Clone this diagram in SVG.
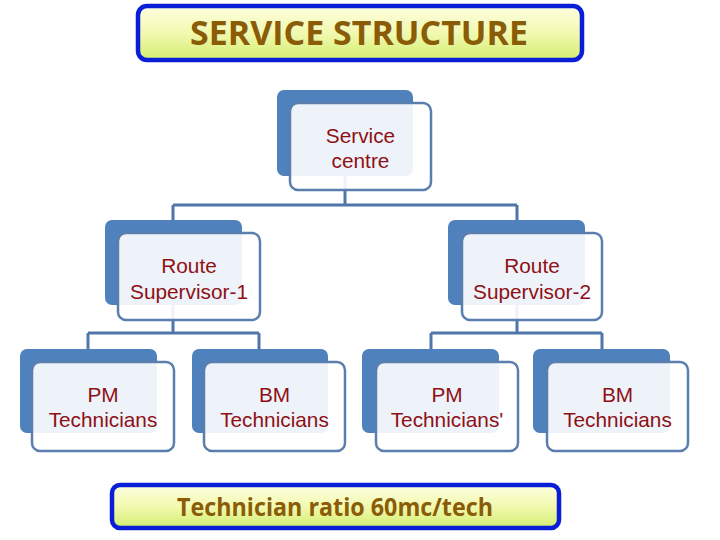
<svg xmlns="http://www.w3.org/2000/svg" width="720" height="540" viewBox="0 0 720 540">
<defs>
<linearGradient id="yel" x1="0" y1="0" x2="0" y2="1">
<stop offset="0" stop-color="#fefee0"/>
<stop offset="0.5" stop-color="#f2f9b0"/>
<stop offset="1" stop-color="#d2ee70"/>
</linearGradient>
<style>
.banner{fill:url(#yel);stroke:#0a1ed8;stroke-width:4.5}
.btxt{font-family:"Open Sans","Lato",sans-serif;font-weight:bold;fill:#8a5c08;text-anchor:middle}
.back{fill:#4f81bd}
.front{fill:#ffffff;fill-opacity:0.9;stroke:#5a7fae;stroke-width:2.5}
.lbl{font-family:"Liberation Sans",Arial,sans-serif;font-size:20.8px;fill:#8e1016;text-anchor:middle}
.con{fill:none;stroke:#4f76a8;stroke-width:3}
</style>
</defs>
<rect width="720" height="540" fill="#ffffff"/>

<g id="title">
<rect class="banner" x="138" y="6" width="444" height="54" rx="9"/>
<text class="btxt" x="359" y="45" font-size="34" textLength="338" lengthAdjust="spacingAndGlyphs">SERVICE STRUCTURE</text>
</g>

<g id="connectors">
<path class="con" d="M345 176V205M173 205H517M173 205V220M517 205V220"/>
<path class="con" d="M173 305V333M88 333H259M88 333V349M259 333V349"/>
<path class="con" d="M517 305V333M431 333H602M431 333V349M602 333V349"/>
</g>

<g id="service-centre">
<rect class="back" x="277" y="90" width="136" height="86" rx="7"/>
<rect class="front" x="290" y="103" width="141" height="87" rx="8"/>
<text class="lbl" x="360.5" y="142.5">Service</text>
<text class="lbl" x="360.5" y="167.5">centre</text>
</g>

<g id="route-supervisor-1">
<rect class="back" x="105" y="220" width="137" height="85" rx="7"/>
<rect class="front" x="118" y="233" width="142" height="87" rx="8"/>
<text class="lbl" x="189" y="272.5">Route</text>
<text class="lbl" x="189" y="298.5">Supervisor-1</text>
</g>

<g id="route-supervisor-2">
<rect class="back" x="448" y="220" width="137" height="85" rx="7"/>
<rect class="front" x="462" y="233" width="140" height="87" rx="8"/>
<text class="lbl" x="532" y="272.5">Route</text>
<text class="lbl" x="532" y="298.5">Supervisor-2</text>
</g>

<g id="pm-technicians-1">
<rect class="back" x="20" y="349" width="137" height="84" rx="7"/>
<rect class="front" x="32" y="362" width="142" height="89" rx="8"/>
<text class="lbl" x="103" y="401.5">PM</text>
<text class="lbl" x="103" y="426.5">Technicians</text>
</g>

<g id="bm-technicians-1">
<rect class="back" x="192" y="349" width="136" height="84" rx="7"/>
<rect class="front" x="204" y="362" width="141" height="89" rx="8"/>
<text class="lbl" x="274.5" y="401.5">BM</text>
<text class="lbl" x="274.5" y="426.5">Technicians</text>
</g>

<g id="pm-technicians-2">
<rect class="back" x="362" y="349" width="137" height="84" rx="7"/>
<rect class="front" x="376" y="362" width="142" height="89" rx="8"/>
<text class="lbl" x="447" y="401.5">PM</text>
<text class="lbl" x="447" y="426.5">Technicians'</text>
</g>

<g id="bm-technicians-2">
<rect class="back" x="533" y="349" width="137" height="84" rx="7"/>
<rect class="front" x="547" y="362" width="141" height="89" rx="8"/>
<text class="lbl" x="617.5" y="401.5">BM</text>
<text class="lbl" x="617.5" y="426.5">Technicians</text>
</g>

<g id="ratio">
<rect class="banner" x="112" y="485" width="447" height="43" rx="8"/>
<text class="btxt" x="335" y="516" font-size="25" textLength="316" lengthAdjust="spacingAndGlyphs">Technician ratio 60mc/tech</text>
</g>
</svg>
